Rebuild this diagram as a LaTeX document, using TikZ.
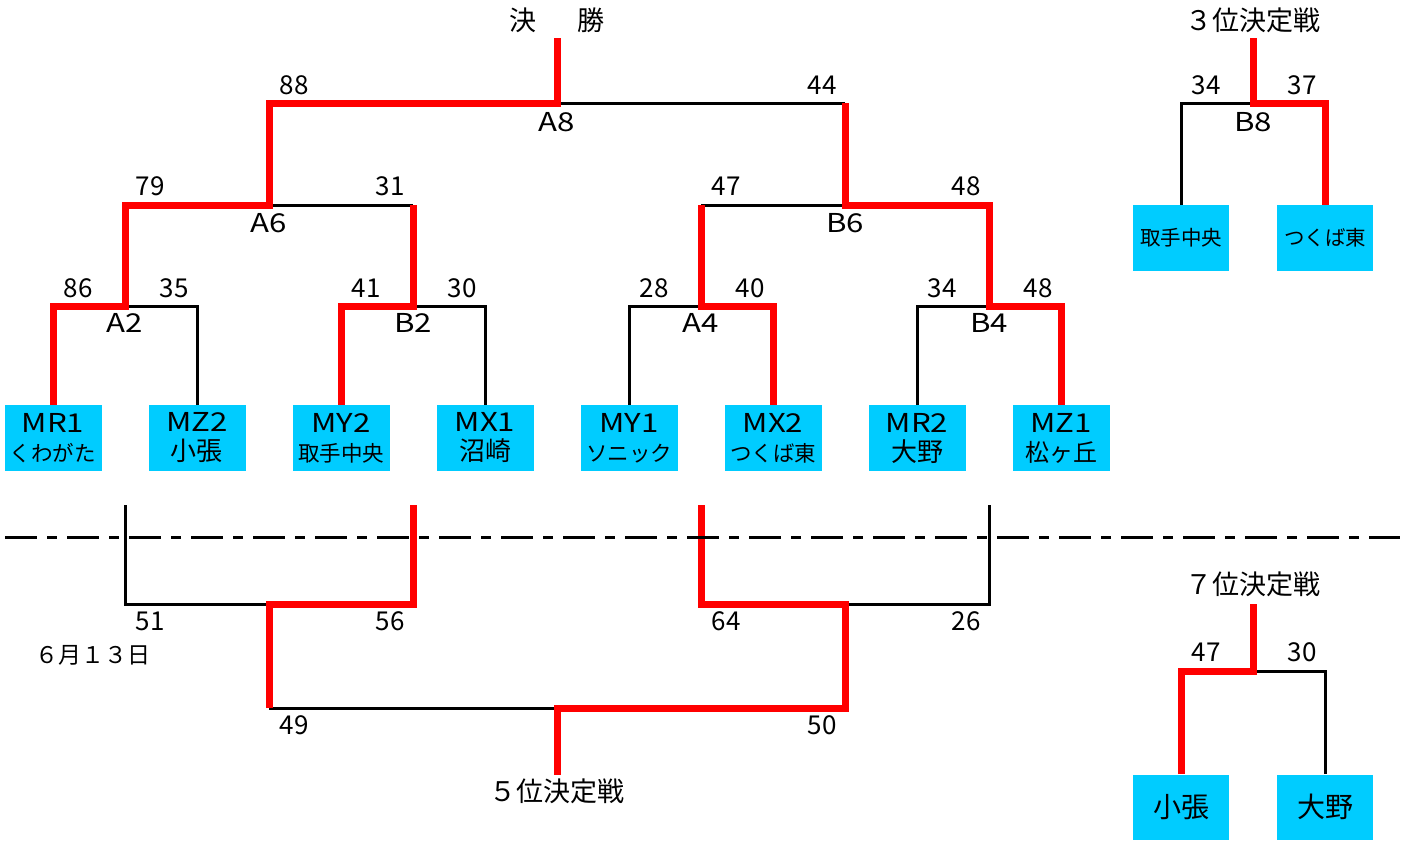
\documentclass[tikz,border=0pt]{standalone}
\usepackage{fontspec}
\setmainfont{Noto Sans CJK JP}
\newfontfamily\widefont{Noto Sans CJK JP}[FakeStretch=1.2]
\usetikzlibrary{positioning}
\definecolor{teamblue}{RGB}{0,204,255}
\newcommand\nm{\fontsize{10.75}{14.5}\selectfont}
\newcommand\code[1]{{\widefont #1}}

\begin{document}
\begin{tikzpicture}[x=0.5pt,y=-0.5pt,
    team/.style={fill=teamblue, minimum width=48.5pt, minimum height=33pt,
      inner sep=0pt, align=center, font=\fontsize{13}{14.5}\selectfont},
    win/.style={draw=red, line width=3.5pt},
    lose/.style={draw=black, line width=1.5pt},
    score/.style={font=\fontsize{13}{15}\selectfont, inner sep=0pt},
    tag/.style={font=\widefont\fontsize{13}{15}\selectfont, inner sep=0pt},
    heading/.style={font=\fontsize{13.5}{16}\selectfont, inner sep=0pt}]

  \useasboundingbox (0,0) rectangle (1410,841);

  % teams
  \begin{scope}[every node/.style={team}]
    \node (MR1) at (53,438)   {\code{MR1}\\{\nm くわがた}};
    \node (MZ2) at (197,438)  {\code{MZ2}\\小張};
    \node (MY2) at (341,438)  {\code{MY2}\\{\nm 取手中央}};
    \node (MX1) at (485,438)  {\code{MX1}\\沼崎};
    \node (MY1) at (629,438)  {\code{MY1}\\{\nm ソニック}};
    \node (MX2) at (773,438)  {\code{MX2}\\{\nm つくば東}};
    \node (MR2) at (917,438)  {\code{MR2}\\大野};
    \node (MZ1) at (1061,438) {\code{MZ1}\\{\fontsize{12}{14.5}\selectfont 松ヶ丘}};
  \end{scope}
  \begin{scope}[every node/.style={team, minimum width=48pt, font=\fontsize{10.25}{12}\selectfont}]
    \node (K1) at (1181,238) {取手中央};
    \node (K2) at (1325,238) {つくば東};
  \end{scope}
  \begin{scope}[every node/.style={team, minimum width=48pt, minimum height=32.5pt, font=\fontsize{14}{16}\selectfont}]
    \node (L1) at (1181,807) {小張};
    \node (L2) at (1325,807) {大野};
  \end{scope}

  % junctions
  \coordinate (A2) at (125,306);
  \coordinate (B2) at (413,306);
  \coordinate (A4) at (701,306);
  \coordinate (B4) at (989,306);
  \coordinate (A6) at (269,205);
  \coordinate (B6) at (845,205);
  \coordinate (A8) at (557,103);
  \coordinate (F)  at (557,38);
  \coordinate (B8) at (1253,103);
  \coordinate (T3) at (1253,38);
  \coordinate (s1) at (125,505);
  \coordinate (s2) at (413,505);
  \coordinate (s3) at (701,505);
  \coordinate (s4) at (989,505);
  \coordinate (C1) at (269,604);
  \coordinate (C2) at (845,604);
  \coordinate (C3) at (557,708);
  \coordinate (E5) at (557,775);
  \coordinate (J7) at (1253,671);
  \coordinate (T7) at (1253,604);

  % losing sides
  \begin{scope}[every path/.style={lose}]
    \draw (MZ2.north) |- (A2);
    \draw (MX1.north) |- (B2);
    \draw (MY1.north) |- (A4);
    \draw (MR2.north) |- (B4);
    \draw (B2 |- A6) -- (A6);
    \draw (A4 |- B6) -- (B6);
    \draw (B6 |- A8) -- (A8);
    \draw (K1.north) |- (B8);
    \draw (s1) |- (C1);
    \draw (s4) |- (C2);
    \draw (C1 |- C3) -- (C3);
    \draw (L2.north) |- (J7);
  \end{scope}

  % winning sides
  \begin{scope}[every path/.style={win}]
    \draw (MR1.north) |- (A2) |- (A6) |- (A8) -- (F);
    \draw (MY2.north) |- (B2) -- (B2 |- A6);
    \draw (MX2.north) |- (A4) -- (A4 |- B6);
    \draw (MZ1.north) |- (B4) |- (B6) -- (B6 |- A8);
    \draw (K2.north) |- (B8) -- (T3);
    \draw (s2) |- (C1) -- (C1 |- C3);
    \draw (s3) |- (C2) |- (C3) -- (E5);
    \draw (L1.north) |- (J7) -- (T7);
  \end{scope}

  \draw[line width=1.5pt, dash pattern=on 16pt off 5pt on 5pt off 5pt] (5,537) -- (1400,537);

  % scores
  \begin{scope}[every node/.style={score}]
    \node (A2l) at (78,288)   {86};
    \node (A2r) at (174,288)  {35};
    \node (B2l) at (366,288)  {41};
    \node (B2r) at (462,288)  {30};
    \node (A4l) at (654,288)  {28};
    \node (A4r) at (750,288)  {40};
    \node (B4l) at (942,288)  {34};
    \node (B4r) at (1038,288) {48};
    \node (A6l) at (150,186)  {79};
    \node (A6r) at (390,186)  {31};
    \node (B6l) at (726,186)  {47};
    \node (B6r) at (966,186)  {48};
    \node (A8l) at (294,85)   {88};
    \node (A8r) at (822,85)   {44};
    \node (B8l) at (1206,85)  {34};
    \node (B8r) at (1302,85)  {37};
    \node (C1l) at (150,621)  {51};
    \node (C1r) at (390,621)  {56};
    \node (C2l) at (726,621)  {64};
    \node (C2r) at (966,621)  {26};
    \node (C3l) at (294,725)  {49};
    \node (C3r) at (822,725)  {50};
    \node (J7l) at (1206,652) {47};
    \node (J7r) at (1302,652) {30};
  \end{scope}

  % match names
  \begin{scope}[every node/.style={tag}]
    \node (A2t) at (125,323)  {A2};
    \node (B2t) at (413,323)  {B2};
    \node (A4t) at (701,323)  {A4};
    \node (B4t) at (989,323)  {B4};
    \node (A6t) at (269,223)  {A6};
    \node (B6t) at (845,223)  {B6};
    \node (A8t) at (557,122)  {A8};
    \node (B8t) at (1253,122) {B8};
  \end{scope}

  % headings
  \begin{scope}[every node/.style={heading}]
    \node (final) at (557,20)   {決\hspace{1.5em}勝};
    \node (third) at (1253,20)  {３位決定戦};
    \node (fifth) at (557,791)  {５位決定戦};
    \node (seventh) at (1253,584) {７位決定戦};
    \node[font=\fontsize{11.5}{14}\selectfont] (day) at (93,655) {６月１３日};
  \end{scope}

\end{tikzpicture}
\end{document}
